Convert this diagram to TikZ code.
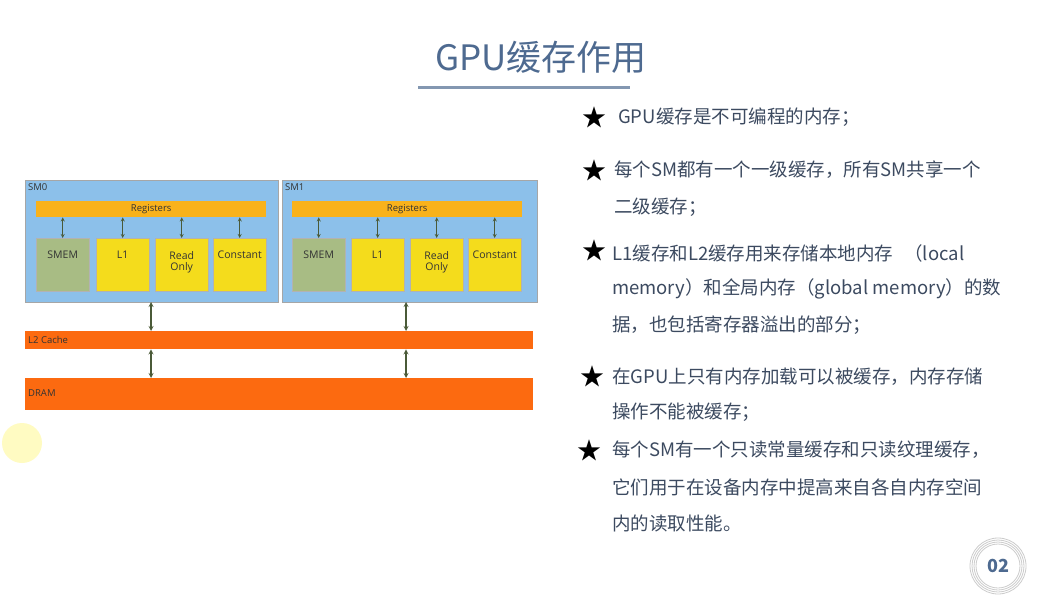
\documentclass[tikz,border=0pt]{standalone}
\usepackage{fontspec}
\setmainfont{Noto Sans CJK SC}
\newfontfamily\lab{Open Sans}
\begin{document}
\begin{tikzpicture}[x=1pt,y=-1pt,
 sm/.style={draw=gray!70,fill=smblue},
 reg/.style={fill=regor,draw=none,inner sep=0pt,font=\lab\fontsize{9.5}{10}\selectfont,text=black!80},
 cell/.style={fill=cellyel,draw=gray!60,inner sep=0pt},
 clab/.style={font=\lab\fontsize{10.5}{11}\selectfont,align=center,text=black!80,inner sep=0pt},
 bar/.style={fill=barorg,draw=none,inner sep=0pt},
 blab/.style={anchor=west,font=\lab\fontsize{9.5}{10}\selectfont,inner sep=0pt,text=black!80},
 ar/.style={<->,>=stealth,draw=arrg,line width=1.2pt},
 sar/.style={<->,>=stealth,draw=arrg,line width=0.8pt},
 txt/.style={anchor=west,inner sep=0pt,font=\fontsize{18.5}{22}\selectfont,text=txtc},
 star/.style={font=\fontsize{24}{24}\selectfont,inner sep=0pt}]
\definecolor{smblue}{HTML}{8CC0EA}
\definecolor{regor}{HTML}{F9B21B}
\definecolor{cellyel}{HTML}{F4DC1C}
\definecolor{smemg}{HTML}{A8BC84}
\definecolor{barorg}{HTML}{FC6A10}
\definecolor{arrg}{HTML}{4A5A38}
\definecolor{txtc}{HTML}{3C4A60}
\definecolor{titc}{HTML}{4E6A90}
\useasboundingbox[fill=white] (0,0) rectangle (1062,599);
\fill[yellow!30,opacity=0.8] (22,443) circle (20);
% title
\node[font=\fontsize{35}{38}\selectfont,text=titc] (title) at (541,57) {GPU缓存作用};
\draw[titc!70,line width=3pt] (418,88) -- (630,88);
% SMs
\foreach \n/\x/\w in {0/25/253,1/282/255}{
 \node[sm,minimum width=\w,minimum height=122,anchor=north west,inner sep=0pt] (sm\n) at (\x,180) {};
 \node[blab,anchor=north west] (smt\n) at (\x+3,183) {SM\n};
}
\node[reg,minimum width=230,minimum height=16,anchor=north west] (reg0) at (36,201) {Registers};
\node[reg,minimum width=230,minimum height=16,anchor=north west] (reg1) at (292,201) {Registers};
\foreach \n/\x/\t/\c in {a/36/SMEM/smemg,b/96/L1/cellyel,c/155/Read\\Only/cellyel,d/213/Constant/cellyel,
 e/292/SMEM/smemg,f/351/L1/cellyel,g/410/Read\\Only/cellyel,h/468/Constant/cellyel}{
 \node[cell,fill=\c,minimum width=53,minimum height=53,anchor=north west] (c\n) at (\x,238) {};
 \node[clab,anchor=north] (l\n) at ([yshift=-13]c\n.north) {\t};
}
\foreach \n in {a,b,c,d} \draw[sar] (reg0.south -| c\n) -- (c\n.north);
\foreach \n in {e,f,g,h} \draw[sar] (reg1.south -| c\n) -- (c\n.north);
\node[bar,minimum width=508,minimum height=18,anchor=north west] (l2) at (25,331) {};
\node[blab] (l2t) at (28,340) {L2 Cache};
\node[bar,minimum width=508,minimum height=32,anchor=north west] (dram) at (25,378) {};
\node[blab] (dramt) at (28,393) {DRAM};
\coordinate (p0) at (151,302); \coordinate (p1) at (406,302);
\draw[ar] (p0) -- (p0 |- l2.north);
\draw[ar] (p1) -- (p1 |- l2.north);
\draw[ar] (p0 |- l2.south) -- (p0 |- dram.north);
\draw[ar] (p1 |- l2.south) -- (p1 |- dram.north);
% bullets
\node[star] (s1) at (594,117) {★};
\node[star] (s2) at (594,170) {★};
\node[star] (s3) at (594,250) {★};
\node[star] (s4) at (592,376) {★};
\node[star] (s5) at (589,450) {★};
\node[txt] (t1) at (618,117) {GPU缓存是不可编程的内存；};
\node[txt] (t2) at (614,170) {每个SM都有一个一级缓存，所有SM共享一个};
\node[txt] (t2b) at (614,207) {二级缓存；};
\node[txt] (t3) at (612,253) {L1缓存和L2缓存用来存储本地内存\hspace{0.6em}（local};
\node[txt] (t3b) at (612,289) {memory）和全局内存（global memory）的数};
\node[txt] (t3c) at (612,325) {据，也包括寄存器溢出的部分；};
\node[txt] (t4) at (612,377) {在GPU上只有内存加载可以被缓存，内存存储};
\node[txt] (t4b) at (612,412) {操作不能被缓存；};
\node[txt] (t5) at (612,450) {每个SM有一个只读常量缓存和只读纹理缓存，};
\node[txt] (t5b) at (612,487) {它们用于在设备内存中提高来自各自内存空间};
\node[txt] (t5c) at (612,523) {内的读取性能。};
% page number
\foreach \r in {22,24,26,28} \draw[gray!40,line width=0.8pt] (998,566) circle (\r);
\node[font=\fontsize{18}{18}\selectfont\bfseries,text=titc] (pg) at (998,566) {02};
\end{tikzpicture}
\end{document}
